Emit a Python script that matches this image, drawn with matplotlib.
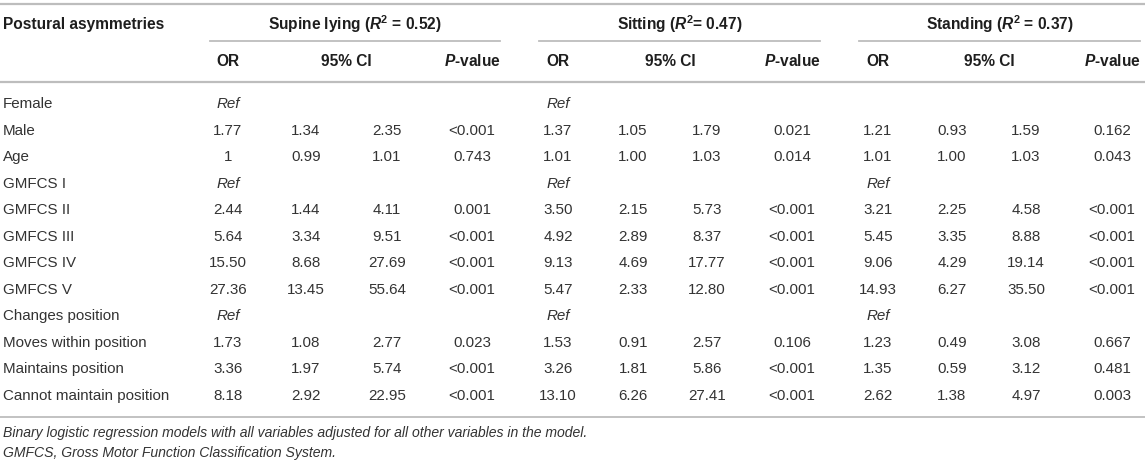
import matplotlib.pyplot as plt

plt.rcParams['font.family'] = ['Liberation Sans', 'DejaVu Sans']
plt.rcParams['mathtext.fontset'] = 'custom'
plt.rcParams['mathtext.rm'] = 'Liberation Sans'
plt.rcParams['mathtext.it'] = 'Liberation Sans:italic'
plt.rcParams['mathtext.bf'] = 'Liberation Sans:bold'
plt.rcParams['mathtext.bfit'] = 'Liberation Sans:italic:bold'

# Table content
row_labels = ['Female', 'Male', 'Age', 'GMFCS I', 'GMFCS II', 'GMFCS III', 'GMFCS IV',
              'GMFCS V', 'Changes position', 'Moves within position', 'Maintains position',
              'Cannot maintain position']

model_names = ['Supine lying', 'Sitting', 'Standing']
model_r2 = ['0.52', '0.47', '0.37']

# columns: OR, CI low, CI high, P ("Ref" marks the reference category)
supine_or = ['Ref', '1.77', '1', 'Ref', '2.44', '5.64', '15.50', '27.36', 'Ref', '1.73', '3.36', '8.18']
supine_lo = ['', '1.34', '0.99', '', '1.44', '3.34', '8.68', '13.45', '', '1.08', '1.97', '2.92']
supine_hi = ['', '2.35', '1.01', '', '4.11', '9.51', '27.69', '55.64', '', '2.77', '5.74', '22.95']
supine_p = ['', '<0.001', '0.743', '', '0.001', '<0.001', '<0.001', '<0.001', '', '0.023', '<0.001', '<0.001']

sitting_or = ['Ref', '1.37', '1.01', 'Ref', '3.50', '4.92', '9.13', '5.47', 'Ref', '1.53', '3.26', '13.10']
sitting_lo = ['', '1.05', '1.00', '', '2.15', '2.89', '4.69', '2.33', '', '0.91', '1.81', '6.26']
sitting_hi = ['', '1.79', '1.03', '', '5.73', '8.37', '17.77', '12.80', '', '2.57', '5.86', '27.41']
sitting_p = ['', '0.021', '0.014', '', '<0.001', '<0.001', '<0.001', '<0.001', '', '0.106', '<0.001', '<0.001']

standing_or = ['', '1.21', '1.01', 'Ref', '3.21', '5.45', '9.06', '14.93', 'Ref', '1.23', '1.35', '2.62']
standing_lo = ['', '0.93', '1.00', '', '2.25', '3.35', '4.29', '6.27', '', '0.49', '0.59', '1.38']
standing_hi = ['', '1.59', '1.03', '', '4.58', '8.88', '19.14', '35.50', '', '3.08', '3.12', '4.97']
standing_p = ['', '0.162', '0.043', '', '<0.001', '<0.001', '<0.001', '<0.001', '', '0.667', '0.481', '0.003']

footnotes = ['Binary logistic regression models with all variables adjusted for all other variables in the model.',
             'GMFCS, Gross Motor Function Classification System.']

models = [
    [supine_or, supine_lo, supine_hi, supine_p],
    [sitting_or, sitting_lo, sitting_hi, sitting_p],
    [standing_or, standing_lo, standing_hi, standing_p],
]

# layout in pixels
W, H = 1145, 465
col_x = [[228, 306, 387, 472], [558, 633, 707, 792], [878, 952, 1026, 1112]]
group_span = [(210, 500), (539, 820), (859, 1140)]
row_y0, row_dy = 104, 26.5
line_col = '#bdbdbd'
txt_col = '#333333'
head_col = '#1e1e1e'
fs = 10.9
fs_head = 11.2

fig = plt.figure(figsize=(W / 100, H / 100), dpi=100)
ax = fig.add_axes([0, 0, 1, 1])
ax.set_xlim(0, W)
ax.set_ylim(H, 0)
ax.axis('off')

# rules
ax.plot([0, W], [4, 4], color=line_col, lw=1.6)
ax.plot([0, W], [82, 82], color=line_col, lw=1.6)
ax.plot([0, W], [417, 417], color=line_col, lw=1.3)
for x0, x1 in group_span:
    ax.plot([x0, x1], [41, 41], color=line_col, lw=1.3)

# header
ax.text(3, 24, 'Postural asymmetries', ha='left', va='center', fontsize=fs_head,
        fontweight='bold', color=head_col)
for g, (name, r2) in enumerate(zip(model_names, model_r2)):
    eq = '= ' if g == 1 else ' = '
    label = name + r' ($\mathbfit{R}^{\mathbf{2}}$' + eq + r2 + ')'
    ax.text(sum(group_span[g]) / 2, 24, label, ha='center', va='center', fontsize=fs_head,
            fontweight='bold', color=head_col)
    xs = col_x[g]
    ax.text(xs[0], 61, 'OR', ha='center', va='center', fontsize=fs_head,
            fontweight='bold', color=head_col)
    ax.text((xs[1] + xs[2]) / 2, 61, '95% CI', ha='center', va='center', fontsize=fs_head,
            fontweight='bold', color=head_col)
    ax.text(xs[3], 61, r'$\mathbfit{P}$-value', ha='center', va='center', fontsize=fs_head,
            fontweight='bold', color=head_col)

# body
for i, lab in enumerate(row_labels):
    y = row_y0 + i * row_dy
    ax.text(3, y, lab, ha='left', va='center', fontsize=fs, color=txt_col)
    for g, cols in enumerate(models):
        for c, vals in enumerate(cols):
            v = vals[i]
            if not v:
                continue
            style = 'italic' if v == 'Ref' else 'normal'
            ax.text(col_x[g][c], y, v, ha='center', va='center', fontsize=fs,
                    style=style, color=txt_col)

for k, note in enumerate(footnotes):
    ax.text(3, 433 + k * 19.5, note, ha='left', va='center', fontsize=10.05,
            style='italic', color=txt_col)

fig.savefig('out.png', dpi=100)
